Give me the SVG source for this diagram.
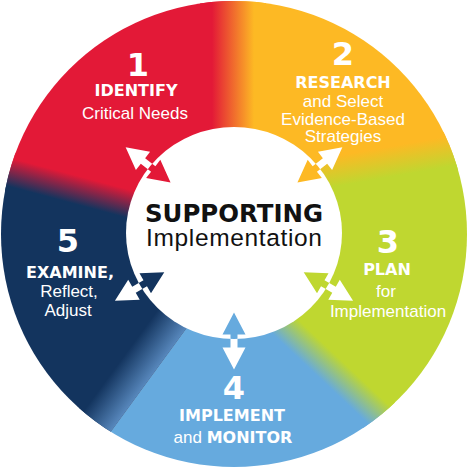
<svg xmlns="http://www.w3.org/2000/svg" xmlns:xlink="http://www.w3.org/1999/xlink" width="468" height="468" viewBox="0 0 468 468">
<style>
.dg{font-family:'DejaVu Sans',sans-serif;font-weight:bold;font-size:32px;text-anchor:middle;fill:#fff}
.bl{font-family:'DejaVu Sans',sans-serif;font-weight:bold;font-size:16px;text-anchor:middle;fill:#fff}
.rg{font-family:'Liberation Sans',Arial,sans-serif;font-size:17px;text-anchor:middle;fill:#fff}
.b{font-family:'DejaVu Sans',sans-serif;font-weight:bold;font-size:16px}
</style>
<defs>
<clipPath id="outer"><circle cx="234" cy="234" r="233"/></clipPath>
<clipPath id="innerClip"><ellipse cx="234" cy="233" rx="108" ry="106"/></clipPath>
<polygon id="arr" points="-28.5,0 -6.5,-11.5 -6.5,-3.5 6.5,-3.5 6.5,-11.5 28.5,0 6.5,11.5 6.5,3.5 -6.5,3.5 -6.5,11.5"/>
<linearGradient id="g1" gradientUnits="userSpaceOnUse" x1="230.4" y1="245.5" x2="237.6" y2="218.5"><stop offset="0" stop-color="#13345E"/><stop offset="1" stop-color="#E31937"/></linearGradient>
<linearGradient id="g2" gradientUnits="userSpaceOnUse" x1="212" y1="0" x2="254" y2="0"><stop offset="0" stop-color="#E31937"/><stop offset="1" stop-color="#FDB924"/></linearGradient>
<linearGradient id="g3" gradientUnits="userSpaceOnUse" x1="397.4" y1="145.2" x2="402.6" y2="174.8"><stop offset="0" stop-color="#FDB924"/><stop offset="1" stop-color="#BFD730"/></linearGradient>
<linearGradient id="g4" gradientUnits="userSpaceOnUse" x1="300.4" y1="360.2" x2="319.6" y2="339.8"><stop offset="0" stop-color="#66AADE"/><stop offset="1" stop-color="#BFD730"/></linearGradient>
<linearGradient id="g5" gradientUnits="userSpaceOnUse" x1="155.6" y1="312.9" x2="183" y2="333"><stop offset="0" stop-color="#13345E"/><stop offset="1" stop-color="#5787BC"/></linearGradient>
</defs>
<rect width="468" height="468" fill="#fff"/>

<g id="node-identify">
<path clip-path="url(#outer)" fill="#E31937" d="M234,232 L-152.4,128.4 L-200,-200 L234,-200 Z"/>
<text class="dg" x="138" y="76">1</text>
<text class="bl" x="136" y="96">IDENTIFY</text>
<text class="rg" x="135" y="119">Critical Needs</text>
</g>

<g id="node-research">
<path clip-path="url(#outer)" fill="#FDB924" d="M234,232 L234,-200 L800,-200 L794,90 L300,177.6 Z"/>
<text class="dg" x="343" y="65">2</text>
<text class="bl" x="343" y="88">RESEARCH</text>
<text class="rg" x="343" y="107">and Select</text>
<text class="rg" x="343" y="125">Evidence-Based</text>
<text class="rg" x="343" y="142">Strategies</text>
</g>

<g id="node-plan">
<path clip-path="url(#outer)" fill="#BFD730" d="M234,232 L300,177.6 L794,90 L900,90 L900,900 L673.5,693 L266.4,308.8 Z"/>
<text class="dg" x="388" y="253">3</text>
<text class="bl" x="387" y="275">PLAN</text>
<text class="rg" x="386" y="297">for</text>
<text class="rg" x="388" y="317">Implementation</text>
</g>

<g id="node-implement">
<path clip-path="url(#outer)" fill="#66AADE" d="M234,232 L266.4,308.8 L673.5,693 L673.5,900 L-112,900 L-112,736.5 L224.3,276.5 Z"/>
<text class="dg" x="234" y="399">4</text>
<text class="bl" x="232" y="421">IMPLEMENT</text>
<text class="rg" x="233" y="443">and <tspan class="b">MONITOR</tspan></text>
</g>

<g id="node-examine">
<path clip-path="url(#outer)" fill="#13345E" d="M234,232 L224.3,276.5 L-112,736.5 L-300,736.5 L-300,128.4 L-152.4,128.4 Z"/>
<text class="dg" x="68" y="252">5</text>
<text class="bl" x="70" y="278">EXAMINE,</text>
<text class="rg" x="69" y="297">Reflect,</text>
<text class="rg" x="68" y="316">Adjust</text>
</g>

<g id="blends" clip-path="url(#outer)">
<polygon fill="url(#g1)" points="239.2,212.7 -147.2,109.1 -157.6,147.7 228.8,251.3"/>
<polygon fill="url(#g2)" points="200,-10 266,-10 266,200 200,200"/>
<polygon fill="url(#g3)" points="296.5,157.9 790.5,70.3 797.5,109.7 303.5,197.3"/>
<polygon fill="url(#g4)" points="280.1,294.3 687.2,678.5 659.8,707.5 252.7,323.3"/>
<polygon fill="url(#g5)" points="224.3,276.5 -112,736.5 -144.3,712.9 192,252.9"/>
</g>

<g id="node-center">
<ellipse cx="234" cy="233" rx="108" ry="106" fill="#fff"/>
<text x="234" y="222" font-family="'DejaVu Sans',sans-serif" font-weight="bold" font-size="24" text-anchor="middle" fill="#111" textLength="178" lengthAdjust="spacingAndGlyphs">SUPPORTING</text>
<text x="234" y="246" font-family="'Liberation Sans',Arial,sans-serif" font-size="24.5" text-anchor="middle" fill="#111" textLength="176">Implementation</text>
</g>

<g id="connectors">
<use xlink:href="#arr" href="#arr" fill="#fff" transform="translate(148.1,164.9) rotate(218)"/>
<use xlink:href="#arr" href="#arr" fill="#fff" transform="translate(319.9,164.9) rotate(-38)"/>
<use xlink:href="#arr" href="#arr" fill="#fff" transform="translate(328.4,286.5) rotate(30)"/>
<use xlink:href="#arr" href="#arr" fill="#fff" transform="translate(234,341) rotate(90)"/>
<use xlink:href="#arr" href="#arr" fill="#fff" transform="translate(139.6,286.5) rotate(150)"/>
<g clip-path="url(#innerClip)">
<use xlink:href="#arr" href="#arr" fill="#E31937" transform="translate(148.1,164.9) rotate(218)"/>
<use xlink:href="#arr" href="#arr" fill="#FDB924" transform="translate(319.9,164.9) rotate(-38)"/>
<use xlink:href="#arr" href="#arr" fill="#BFD730" transform="translate(328.4,286.5) rotate(30)"/>
<use xlink:href="#arr" href="#arr" fill="#66AADE" transform="translate(234,341) rotate(90)"/>
<use xlink:href="#arr" href="#arr" fill="#13345E" transform="translate(139.6,286.5) rotate(150)"/>
</g>
</g>
</svg>
